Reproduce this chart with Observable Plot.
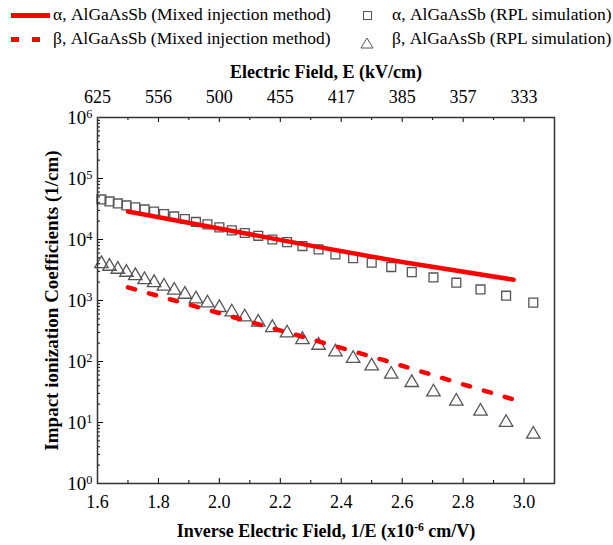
<!DOCTYPE html>
<html><head><meta charset="utf-8">
<script src="https://cdn.jsdelivr.net/npm/d3@7"></script>
<script src="https://cdn.jsdelivr.net/npm/@observablehq/plot@0.6"></script>
<style>
html,body{margin:0;padding:0;background:#fff;}
body{font-family:"Liberation Serif","Times New Roman",serif;}
#legend{position:relative;width:613px;height:52px;font-size:17.5px;color:#000;}
#legend .t{position:absolute;white-space:nowrap;line-height:1;transform:translateY(-50%);}
#legend .sw{position:absolute;}
#chart svg{display:block;}
</style></head><body>
<div id="legend"></div>
<div id="chart"></div>
<script>
// ---- data ----
// Electric field of the RPL simulation points, kV/cm
const fieldE = [620,610,600,590,580,570,560,550,540,530,520,510,500,490,480,470,460,450,440,430,420,410,400,390,380,370,360,350,340,330];
// alpha, RPL simulation (1/cm)
const alphaRPL = [45400,42100,39000,36200,33600,31100,28800,26200,23900,21700,19400,17700,15800,14100,12800,11500,10000,9060,7800,6890,5700,4950,4170,3530,2920,2390,1960,1520,1200,922];
// beta, RPL simulation (1/cm)
const betaRPL = [4010,3630,3240,2890,2550,2190,1960,1710,1470,1260,1060,908,764,648,536,439,359,293,228,184,143,112,84.4,61.7,45.1,31.6,22.3,15.3,9.98,6.42];
// Mixed injection method curves: inverse field (x1e-6 cm/V) and coefficient (1/cm)
const alphaMixInvE = [1.70, 2.00, 2.30, 2.60, 2.966];
const alphaMix = [28800, 15100, 7940, 4270, 2190];
const betaMixInvE = [1.70, 1.987, 2.265, 2.543, 2.818, 2.966];
const betaMix = [1640, 647, 262, 104, 39.7, 23.8];
// ticks
const xTicks = [1.6,1.8,2.0,2.2,2.4,2.6,2.8,3.0];
const xTickLabels = ["1.6","1.8","2.0","2.2","2.4","2.6","2.8","3.0"];
const xMinorTicks = [1.7,1.9,2.1,2.3,2.5,2.7,2.9];
const topTickLabels = ["625","556","500","455","417","385","357","333"];
const yTicks = [1,10,100,1000,10000,100000,1000000];
const yTickExp = ["0","1","2","3","4","5","6"];
const legendLabels = [
  "\u03b1, AlGaAsSb (Mixed injection method)",
  "\u03b2, AlGaAsSb (Mixed injection method)",
  "\u03b1, AlGaAsSb (RPL simulation)",
  "\u03b2, AlGaAsSb (RPL simulation)"
];
const titleTop = "Electric Field, E (kV/cm)";
const titleBottom = "Inverse Electric Field, 1/E (x10^{-6} cm/V)";
const titleY = "Impact ionization Coefficients (1/cm)";

// ---- derived tables ----
const rpl = fieldE.map((E, i) => ({x: 1000 / E, alpha: alphaRPL[i], beta: betaRPL[i]}));
const aMix = alphaMixInvE.map((x, i) => ({x, y: alphaMix[i]}));
const bMix = betaMixInvE.map((x, i) => ({x, y: betaMix[i]}));
const yMinor = [];
for (let k = 0; k < 6; k++) for (let m = 2; m <= 9; m++) yMinor.push(m * Math.pow(10, k));

// ---- legend ----
const RED = "#ff0000", GRAY = "#555";
const lg = document.getElementById("legend");
const rows = [15, 39];
function addText(txt, left, top) {
  const d = document.createElement("div"); d.className = "t";
  d.style.left = left + "px"; d.style.top = top + "px"; d.textContent = txt; lg.appendChild(d);
}
function addBox(left, top, w, h, css) {
  const d = document.createElement("div"); d.className = "sw";
  d.style.left = left + "px"; d.style.top = top + "px"; d.style.width = w + "px"; d.style.height = h + "px";
  Object.assign(d.style, css); lg.appendChild(d); return d;
}
addBox(11, rows[0] - 2.5, 39, 5, {background: RED});
addText(legendLabels[0], 53, rows[0]);
addBox(11, rows[1] - 2.5, 8, 5, {background: RED});
addBox(32, rows[1] - 2.5, 8, 5, {background: RED});
addText(legendLabels[1], 53, rows[1]);
addBox(363, rows[0] - 4.5, 7, 7, {border: "1px solid " + GRAY});
addText(legendLabels[2], 392, rows[0]);
const tri = addBox(360, rows[1] - 6, 14, 12, {});
tri.innerHTML = '<svg width="14" height="12"><polygon points="7,1 13,11 1,11" fill="none" stroke="' + GRAY + '" stroke-width="1"/></svg>';
addText(legendLabels[3], 392, rows[1]);

// ---- plot ----
const W = 613, H = 493, mT = 65, mB = 62, mL = 97, mR = 59;
const pw = W - mL - mR, ph = H - mT - mB;
const chart = Plot.plot({
  width: W, height: H,
  marginTop: mT, marginBottom: mB, marginLeft: mL, marginRight: mR,
  style: {fontFamily: "'Liberation Serif','Times New Roman',serif", fontSize: "18px", color: "#000", background: "#fff"},
  x: {domain: [1.6, 3.1], label: null},
  y: {type: "log", domain: [1, 1e6], label: null},
  marks: [
    Plot.dot(rpl, {x: "x", y: "alpha", symbol: "square", r: 5, stroke: GRAY, strokeWidth: 1.3, fill: "none"}),
    Plot.dot(rpl, {x: "x", y: "beta", symbol: "triangle", r: 5, stroke: GRAY, strokeWidth: 1.3, fill: "none"}),
    Plot.line(aMix, {x: "x", y: "y", stroke: RED, strokeWidth: 4.5}),
    Plot.line(bMix, {x: "x", y: "y", stroke: RED, strokeWidth: 4.5, strokeDasharray: "7.3,14.5"}),
    // inward ticks
    Plot.tickX(xTicks, {x: d => d, insetTop: ph - 5, stroke: "#000"}),
    Plot.tickX(xMinorTicks, {x: d => d, insetTop: ph - 3, stroke: "#000"}),
    Plot.tickX(xTicks, {x: d => d, insetBottom: ph - 5, stroke: "#000"}),
    Plot.tickX(xMinorTicks, {x: d => d, insetBottom: ph - 3, stroke: "#000"}),
    Plot.tickY(yTicks, {y: d => d, insetRight: pw - 6, stroke: "#000"}),
    Plot.tickY(yMinor, {y: d => d, insetRight: pw - 3, stroke: "#000"}),
    Plot.frame({stroke: "#333", strokeWidth: 1.5}),
    // tick labels
    Plot.axisX(xTicks, {anchor: "bottom", tickSize: 0, tickPadding: 12, fontSize: 18,
      tickFormat: d => xTickLabels[xTicks.indexOf(d)], label: null}),
    Plot.axisX(xTicks, {anchor: "top", tickSize: 0, tickPadding: 15, fontSize: 18,
      tickFormat: d => topTickLabels[xTicks.indexOf(d)], label: null}),
    Plot.axisY(yTicks, {anchor: "left", tickSize: 0, tickPadding: 5, fontSize: 19,
      tickFormat: d => "10^{" + yTickExp[yTicks.indexOf(d)] + "}", label: null}),
    // titles
    Plot.text([titleTop], {text: d => d, frameAnchor: "top", dy: -45, lineAnchor: "middle", textAnchor: "middle", fontWeight: "bold", fontSize: 18}),
    Plot.text([titleBottom], {text: d => d, frameAnchor: "bottom", dy: 48, lineAnchor: "middle", textAnchor: "middle", fontWeight: "bold", fontSize: 18}),
    Plot.text([titleY], {text: d => d, frameAnchor: "left", dx: -46, rotate: -90, lineAnchor: "middle", textAnchor: "middle", fontWeight: "bold", fontSize: 19})
  ]
});
// superscripts: "^{...}" -> raised tspan
chart.querySelectorAll("text").forEach(t => {
  const s = t.textContent;
  if (!s.includes("^{")) return;
  const parts = s.split(/\^\{(.*?)\}/);
  while (t.firstChild) t.removeChild(t.firstChild);
  parts.forEach((p, i) => {
    if (!p) return;
    if (i % 2) {
      const ts = document.createElementNS("http://www.w3.org/2000/svg", "tspan");
      ts.setAttribute("baseline-shift", "6");
      ts.setAttribute("font-size", "65%");
      ts.textContent = p;
      t.appendChild(ts);
    } else {
      t.appendChild(document.createTextNode(p));
    }
  });
});
document.getElementById("chart").appendChild(chart);
</script></body></html>
